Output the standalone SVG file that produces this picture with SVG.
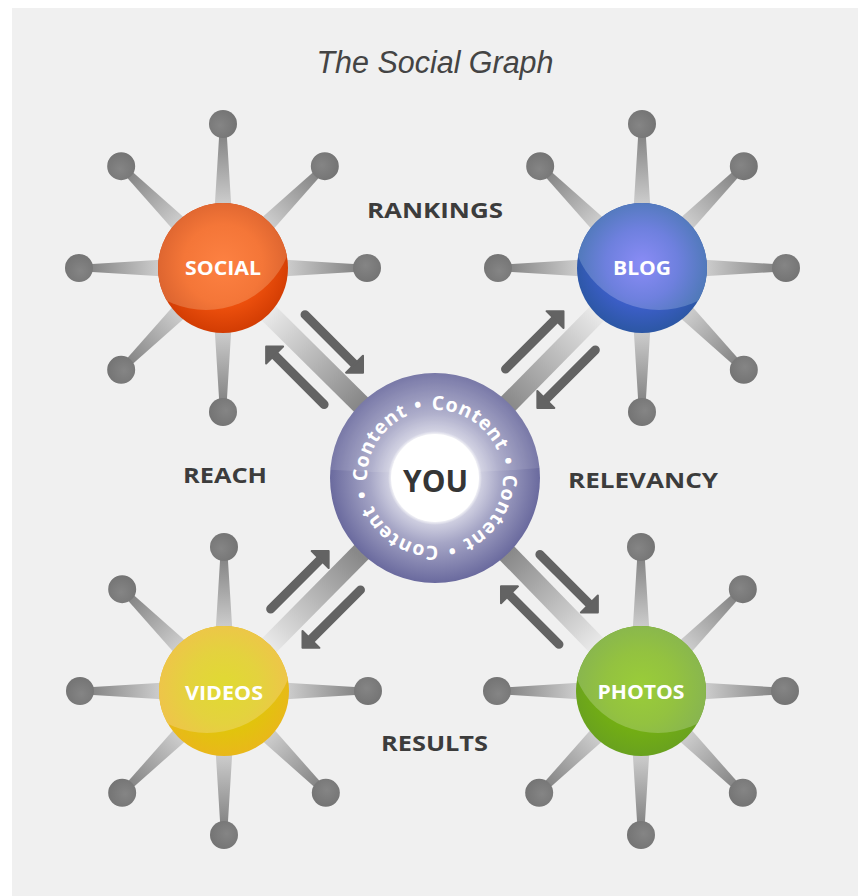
<svg xmlns="http://www.w3.org/2000/svg" xmlns:xlink="http://www.w3.org/1999/xlink" width="858" height="896" viewBox="0 0 858 896">
<style>
.lbl{font-family:"Open Sans","Liberation Sans",sans-serif;font-weight:700;font-size:21px;fill:#3c3c3c;text-anchor:middle}
.nlbl{font-family:"Open Sans","Liberation Sans",sans-serif;font-weight:700;font-size:19.5px;fill:#ffffff;text-anchor:middle}
.ring{font-family:"Open Sans","Liberation Sans",sans-serif;font-weight:700;font-size:19.5px;fill:#ffffff;text-anchor:middle;letter-spacing:0.6px}
.arr{stroke:#636363;stroke-width:9;stroke-linecap:round;fill:none}
.ah{fill:#636363;stroke:#636363;stroke-width:2;stroke-linejoin:round}
</style>
<defs>
  <linearGradient id="gSpoke" x1="0" y1="0" x2="1" y2="0">
    <stop offset="0" stop-color="#d2d2d2"/>
    <stop offset="0.12" stop-color="#c8c8c8"/>
    <stop offset="1" stop-color="#7a7a7a"/>
  </linearGradient>
  <linearGradient id="gBar" x1="0" y1="0" x2="1" y2="0">
    <stop offset="0.08" stop-color="#e8e8e8"/>
    <stop offset="0.75" stop-color="#888888"/>
  </linearGradient>
  <radialGradient id="gDot" cx="0.45" cy="0.4" r="0.6">
    <stop offset="0" stop-color="#858585"/>
    <stop offset="1" stop-color="#747474"/>
  </radialGradient>
  <g id="spoke">
    <polygon points="58,-8.5 143,-3.2 143,3.2 58,8.5" fill="url(#gSpoke)"/>
    <circle cx="144" cy="0" r="14" fill="url(#gDot)"/>
  </g>
  <g id="link">
    <rect x="50" y="-10" width="190" height="20" fill="url(#gBar)"/>
  </g>
  <g id="arrows">
    <line class="arr" x1="91" y1="-25" x2="163" y2="-25"/>
    <polygon class="ah" points="173,-25 161,-37 161,-13"/>
    <line class="arr" x1="168" y1="25" x2="96" y2="25"/>
    <polygon class="ah" points="86,25 98,13 98,37"/>
  </g>
  <clipPath id="cSph"><circle cx="0" cy="0" r="65"/></clipPath>
  <radialGradient id="sL" gradientUnits="userSpaceOnUse" cx="0" cy="-4" r="72">
    <stop offset="0" stop-color="#fd8142"/><stop offset="0.55" stop-color="#f47638"/><stop offset="1" stop-color="#d8612e"/>
  </radialGradient>
  <radialGradient id="sD" gradientUnits="userSpaceOnUse" cx="0" cy="-4" r="72">
    <stop offset="0.55" stop-color="#f0520e"/><stop offset="1" stop-color="#cf3a02"/>
  </radialGradient>
  <radialGradient id="bL" gradientUnits="userSpaceOnUse" cx="0" cy="-4" r="72">
    <stop offset="0" stop-color="#8a8cf6"/><stop offset="0.5" stop-color="#6e80de"/><stop offset="1" stop-color="#4a78b2"/>
  </radialGradient>
  <radialGradient id="bD" gradientUnits="userSpaceOnUse" cx="0" cy="-4" r="72">
    <stop offset="0.55" stop-color="#3e5fcc"/><stop offset="1" stop-color="#2a56a0"/>
  </radialGradient>
  <radialGradient id="vL" gradientUnits="userSpaceOnUse" cx="0" cy="-4" r="72">
    <stop offset="0" stop-color="#e0da32"/><stop offset="0.5" stop-color="#e4d23e"/><stop offset="1" stop-color="#f0c24c"/>
  </radialGradient>
  <radialGradient id="vD" gradientUnits="userSpaceOnUse" cx="0" cy="-4" r="72">
    <stop offset="0.55" stop-color="#e0c60a"/><stop offset="1" stop-color="#eab61c"/>
  </radialGradient>
  <radialGradient id="pL" gradientUnits="userSpaceOnUse" cx="0" cy="-4" r="72">
    <stop offset="0" stop-color="#9acd38"/><stop offset="0.5" stop-color="#93c240"/><stop offset="1" stop-color="#86b352"/>
  </radialGradient>
  <radialGradient id="pD" gradientUnits="userSpaceOnUse" cx="0" cy="-4" r="72">
    <stop offset="0.55" stop-color="#74b012"/><stop offset="1" stop-color="#68a020"/>
  </radialGradient>
  <radialGradient id="gYou" cx="0.5" cy="0.5" r="0.5">
    <stop offset="0" stop-color="#ffffff"/>
    <stop offset="0.42" stop-color="#d4d4e4"/>
    <stop offset="0.62" stop-color="#a6a6c6"/>
    <stop offset="1" stop-color="#6a6a9e"/>
  </radialGradient>
  <radialGradient id="gInner" cx="0.5" cy="0.5" r="0.5">
    <stop offset="0.9" stop-color="#ffffff"/>
    <stop offset="1" stop-color="#ffffff" stop-opacity="0"/>
  </radialGradient>
  <clipPath id="cYou"><circle cx="435" cy="478" r="105"/></clipPath>
  <path id="ringPath" d="M430.25,410.16 A68,68 0 1 1 439.75,545.84 A68,68 0 1 1 430.25,410.16"/>
</defs>

<rect x="0" y="0" width="858" height="896" fill="#ffffff"/>
<rect x="12" y="8" width="846" height="888" fill="#f0f0f0"/>

<text x="435" y="73" font-family="'Liberation Sans',Arial,sans-serif" font-style="italic" font-size="31" fill="#444444" text-anchor="middle" textLength="237" lengthAdjust="spacingAndGlyphs">The Social Graph</text>

<g id="connectors">
  <use xlink:href="#link" transform="translate(223,268) rotate(44.7)"/>
  <use xlink:href="#link" transform="translate(642,268) rotate(134.6)"/>
  <use xlink:href="#link" transform="translate(224,691) rotate(-45.3)"/>
  <use xlink:href="#link" transform="translate(641,691) rotate(-134.2)"/>
  <use xlink:href="#arrows" transform="translate(223,268) rotate(45)"/>
  <use xlink:href="#arrows" transform="translate(642,268) rotate(135)"/>
  <use xlink:href="#arrows" transform="translate(224,691) rotate(-45)"/>
  <use xlink:href="#arrows" transform="translate(641,691) rotate(-135)"/>
</g>

<g id="social" transform="translate(223,268)">
  <use xlink:href="#spoke" transform="rotate(0)"/>
  <use xlink:href="#spoke" transform="rotate(90)"/>
  <use xlink:href="#spoke" transform="rotate(135)"/>
  <use xlink:href="#spoke" transform="rotate(180)"/>
  <use xlink:href="#spoke" transform="rotate(225)"/>
  <use xlink:href="#spoke" transform="rotate(270)"/>
  <use xlink:href="#spoke" transform="rotate(315)"/>
  <circle r="65" fill="url(#sD)"/>
  <circle cx="-17" cy="-46" r="88" fill="url(#sL)" clip-path="url(#cSph)"/>
  <text class="nlbl" x="0" y="7" textLength="76" lengthAdjust="spacingAndGlyphs">SOCIAL</text>
</g>

<g id="blog" transform="translate(642,268)">
  <use xlink:href="#spoke" transform="rotate(0)"/>
  <use xlink:href="#spoke" transform="rotate(45)"/>
  <use xlink:href="#spoke" transform="rotate(90)"/>
  <use xlink:href="#spoke" transform="rotate(180)"/>
  <use xlink:href="#spoke" transform="rotate(225)"/>
  <use xlink:href="#spoke" transform="rotate(270)"/>
  <use xlink:href="#spoke" transform="rotate(315)"/>
  <circle r="65" fill="url(#bD)"/>
  <circle cx="17" cy="-46" r="88" fill="url(#bL)" clip-path="url(#cSph)"/>
  <text class="nlbl" x="0" y="7" textLength="58" lengthAdjust="spacingAndGlyphs">BLOG</text>
</g>

<g id="videos" transform="translate(224,691)">
  <use xlink:href="#spoke" transform="rotate(0)"/>
  <use xlink:href="#spoke" transform="rotate(45)"/>
  <use xlink:href="#spoke" transform="rotate(90)"/>
  <use xlink:href="#spoke" transform="rotate(135)"/>
  <use xlink:href="#spoke" transform="rotate(180)"/>
  <use xlink:href="#spoke" transform="rotate(225)"/>
  <use xlink:href="#spoke" transform="rotate(270)"/>
  <circle r="65" fill="url(#vD)"/>
  <circle cx="-17" cy="-46" r="88" fill="url(#vL)" clip-path="url(#cSph)"/>
  <text class="nlbl" x="0" y="9" textLength="78" lengthAdjust="spacingAndGlyphs">VIDEOS</text>
</g>

<g id="photos" transform="translate(641,691)">
  <use xlink:href="#spoke" transform="rotate(0)"/>
  <use xlink:href="#spoke" transform="rotate(45)"/>
  <use xlink:href="#spoke" transform="rotate(90)"/>
  <use xlink:href="#spoke" transform="rotate(135)"/>
  <use xlink:href="#spoke" transform="rotate(180)"/>
  <use xlink:href="#spoke" transform="rotate(270)"/>
  <use xlink:href="#spoke" transform="rotate(315)"/>
  <circle r="65" fill="url(#pD)"/>
  <circle cx="17" cy="-46" r="88" fill="url(#pL)" clip-path="url(#cSph)"/>
  <text class="nlbl" x="0" y="8" textLength="87" lengthAdjust="spacingAndGlyphs">PHOTOS</text>
</g>

<g id="you">
  <circle cx="435" cy="478" r="105" fill="url(#gYou)"/>
  <path d="M320,360 L550,360 L550,467 Q435,478 320,469 Z" fill="#ffffff" fill-opacity="0.1" clip-path="url(#cYou)"/>
  <circle cx="435" cy="478" r="47" fill="url(#gInner)"/>
  <circle cx="435" cy="478" r="44" fill="#ffffff"/>
  <text x="435.5" y="492" font-family="'Open Sans','Liberation Sans',sans-serif" font-weight="700" font-size="30" fill="#353535" text-anchor="middle" textLength="65" lengthAdjust="spacingAndGlyphs">YOU</text>
  <text class="ring"><textPath xlink:href="#ringPath" startOffset="10%">Content</textPath></text>
  <text class="ring"><textPath xlink:href="#ringPath" startOffset="35%">Content</textPath></text>
  <text class="ring"><textPath xlink:href="#ringPath" startOffset="60%">Content</textPath></text>
  <text class="ring"><textPath xlink:href="#ringPath" startOffset="85%">Content</textPath></text>
  <text class="ring"><textPath xlink:href="#ringPath" startOffset="22.5%">•</textPath></text>
  <text class="ring"><textPath xlink:href="#ringPath" startOffset="47.5%">•</textPath></text>
  <text class="ring"><textPath xlink:href="#ringPath" startOffset="72.5%">•</textPath></text>
  <text class="ring"><textPath xlink:href="#ringPath" startOffset="97.5%">•</textPath></text>
</g>

<g id="labels">
  <text class="lbl" x="435" y="218" textLength="136" lengthAdjust="spacingAndGlyphs">RANKINGS</text>
  <text class="lbl" x="225" y="483" textLength="84" lengthAdjust="spacingAndGlyphs">REACH</text>
  <text class="lbl" x="643" y="488" textLength="150" lengthAdjust="spacingAndGlyphs">RELEVANCY</text>
  <text class="lbl" x="434.5" y="751" textLength="107" lengthAdjust="spacingAndGlyphs">RESULTS</text>
</g>
</svg>
